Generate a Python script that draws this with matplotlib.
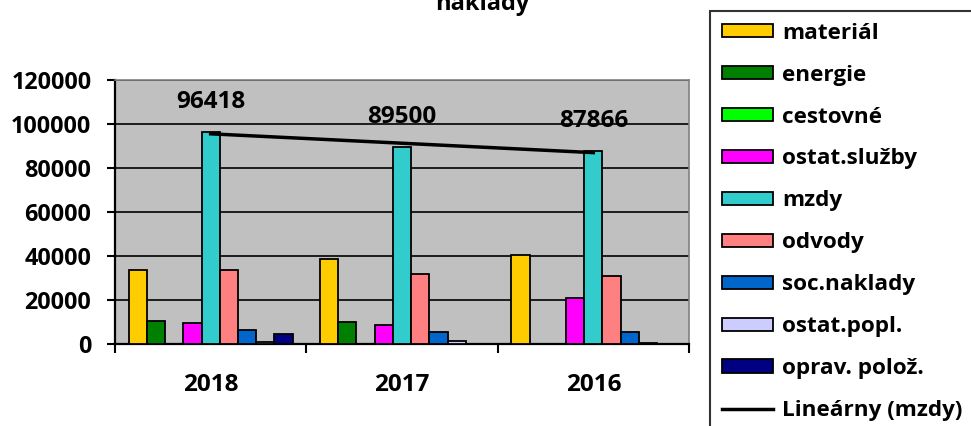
import numpy as np
import matplotlib
matplotlib.use("Agg")
import matplotlib.pyplot as plt
from matplotlib.ticker import FixedLocator

plt.rcParams['font.family'] = ['Open Sans', 'DejaVu Sans']
plt.rcParams['font.weight'] = 'bold'

years = ["2018", "2017", "2016"]
series_names = ["materiál", "energie", "cestovné", "ostat.služby", "mzdy",
                "odvody", "soc.naklady", "ostat.popl.", "oprav. polož."]
material = [33500, 38800, 40600]
energie = [10600, 9800, 0]
cestovne = [0, 0, 0]
ostat_sluzby = [9500, 8800, 20700]
mzdy = [96418, 89500, 87866]
odvody = [33500, 31800, 30800]
soc_naklady = [6200, 5300, 5300]
ostat_popl = [700, 1500, 400]
oprav_poloz = [4500, 0, 0]
colors = ["#FFCC00", "#008000", "#00FF00", "#FF00FF", "#33CCCC",
          "#FF8080", "#0066CC", "#CCCCFF", "#000080"]
trend_label = "Lineárny (mzdy)"
title = "naklady"

series = [material, energie, cestovne, ostat_sluzby, mzdy,
          odvody, soc_naklady, ostat_popl, oprav_poloz]

W, H = 971, 426
fig = plt.figure(figsize=(W / 100, H / 100), dpi=100)
ax = fig.add_axes([115 / W, 1 - 344 / H, (689 - 115) / W, (344 - 80) / H])
ax.set_facecolor("#C0C0C0")

x = np.arange(len(years))
n = len(series)
bw = 0.0953
handles = []
for i, (vals, c, name) in enumerate(zip(series, colors, series_names)):
    off = (i - (n - 1) / 2) * bw
    b = ax.bar(x + off, vals, width=bw, color=c, edgecolor="black",
               linewidth=1.3, label=name, zorder=3)
    handles.append(b)

# linear trendline of mzdy
coef = np.polyfit(x, mzdy, 1)
trend = np.polyval(coef, x)
ln, = ax.plot(x, trend, color="black", lw=2.5, zorder=4, label=trend_label)
handles.append(ln)

for xi, v in zip(x, mzdy):
    ax.annotate(f"{v}", (xi, v), xytext=(0, 21.6), textcoords="offset points",
                ha="center", va="center", fontsize=17.5, fontweight="bold",
                zorder=5)

ax.set_xlim(-0.5, 2.5)
ax.set_ylim(0, 120000)
ax.yaxis.set_major_locator(FixedLocator(np.arange(0, 120001, 20000)))
ax.grid(axis="y", color="black", lw=1.2, zorder=1)
ax.set_axisbelow(True)

ax.set_xticks(x)
ax.set_xticklabels(years)
ax.xaxis.set_minor_locator(FixedLocator([-0.5, 0.5, 1.5, 2.5]))
ax.tick_params(axis="x", which="major", length=0, pad=21, labelsize=17.5)
ax.tick_params(axis="x", which="minor", length=6.5, width=1.5, direction="out")
ax.tick_params(axis="y", length=6, width=1.5, direction="out", pad=11,
               labelsize=16.8)
for lab in ax.get_xticklabels() + ax.get_yticklabels():
    lab.set_fontweight("bold")

for s in ["top", "right"]:
    ax.spines[s].set_color("#808080")
    ax.spines[s].set_linewidth(1.2)
for s in ["left", "bottom"]:
    ax.spines[s].set_color("black")
    ax.spines[s].set_linewidth(1.6)

fig.text(482 / W, 1 - 10 / H, title, ha="center", va="baseline",
         fontsize=17, fontweight="bold")

y_top = 1 - 11 / H
leg = fig.legend(handles=handles, loc="upper left",
                 bbox_to_anchor=(710 / W, y_top - 0.5, 290 / W, 0.5),
                 mode="expand", borderaxespad=0,
                 fancybox=False, frameon=True, edgecolor="black",
                 prop={"size": 16.2, "weight": "bold"},
                 handlelength=2.3, handleheight=0.54, handletextpad=0.38,
                 labelspacing=0.93, borderpad=0.52)
leg.get_frame().set_linewidth(1.5)

fig.savefig("out.png", dpi=100)
